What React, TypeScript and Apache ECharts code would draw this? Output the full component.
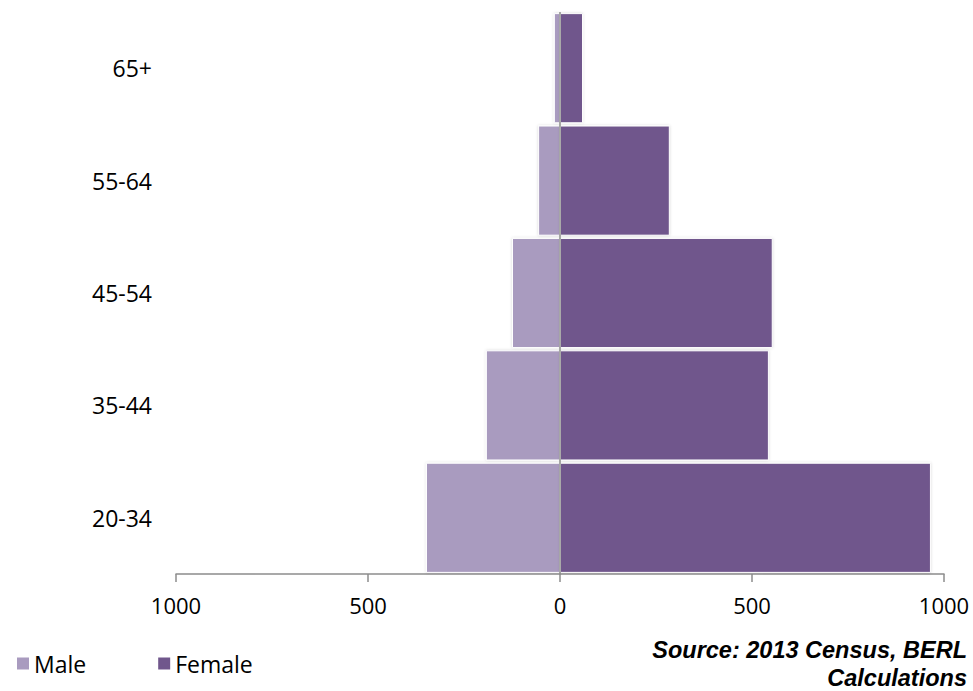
import React, { useEffect, useRef } from "react";
import * as echarts from "echarts";

const categories = ["20-34", "35-44", "45-54", "55-64", "65+"];
const maleValues = [349, 193, 125, 57, 16];
const femaleValues = [966, 544, 554, 286, 60];
const xTicks = [-1000, -500, 0, 500, 1000];

export default function App() {
  const ref = useRef<HTMLDivElement>(null);
  useEffect(() => {
    const chart = echarts.init(ref.current!, null, { renderer: "svg" });
    const font = "'Open Sans', 'Noto Sans', sans-serif";
    const srcFont = "italic bold 23.5px 'Liberation Sans', Arial, sans-serif";
    chart.setOption({
      animation: false,
      grid: { left: 176, right: 29, top: 12, bottom: 117 },
      xAxis: {
        type: "value",
        min: xTicks[0],
        max: xTicks[xTicks.length - 1],
        interval: 500,
        axisLine: { show: true, onZero: false, lineStyle: { color: "#8c8c8c", width: 1.5 } },
        axisTick: { show: true, length: 8, lineStyle: { color: "#8c8c8c", width: 1.5 } },
        splitLine: { show: false },
        axisLabel: {
          margin: 20,
          color: "#000",
          fontSize: 22,
          fontFamily: font,
          formatter: (v: number) => String(Math.abs(v)),
        },
      },
      yAxis: {
        type: "category",
        data: categories,
        axisLine: { show: false },
        axisTick: { show: false },
        axisLabel: { margin: 24, color: "#000", fontSize: 23, fontFamily: font },
      },
      legend: {
        left: 10,
        top: 647,
        itemWidth: 14,
        itemHeight: 14,
        itemGap: 70,
        icon: "rect",
        textStyle: { fontSize: 23, fontFamily: font, color: "#000", padding: [0, 0, 0, -1] },
        data: ["Male", "Female"],
      },
      series: [
        {
          name: "Male",
          type: "bar",
          stack: "pop",
          barCategoryGap: "2%",
          data: maleValues.map((v) => -v),
          itemStyle: {
            color: "#a99bbf",
            borderColor: "#ffffff",
            borderWidth: 1,
            shadowColor: "rgba(0,0,0,0.15)",
            shadowBlur: 3,
          },
          markLine: {
            silent: true,
            symbol: "none",
            label: { show: false },
            lineStyle: { color: "#8c8c8c", width: 1.5, type: "solid" },
            data: [{ xAxis: 0 }],
          },
        },
        {
          name: "Female",
          type: "bar",
          stack: "pop",
          barCategoryGap: "2%",
          data: femaleValues,
          itemStyle: {
            color: "#70578c",
            borderColor: "#ffffff",
            borderWidth: 1,
            shadowColor: "rgba(0,0,0,0.15)",
            shadowBlur: 3,
          },
        },
      ],
      graphic: [
        {
          type: "text",
          right: 6,
          top: 638,
          style: { text: "Source: 2013 Census, BERL", font: srcFont, fill: "#000" },
        },
        {
          type: "text",
          right: 6,
          top: 666,
          style: { text: "Calculations", font: srcFont, fill: "#000" },
        },
      ],
    });
    return () => chart.dispose();
  }, []);
  return <div ref={ref} style={{ width: 973, height: 691, position: "absolute", left: 0, top: 0 }} />;
}
